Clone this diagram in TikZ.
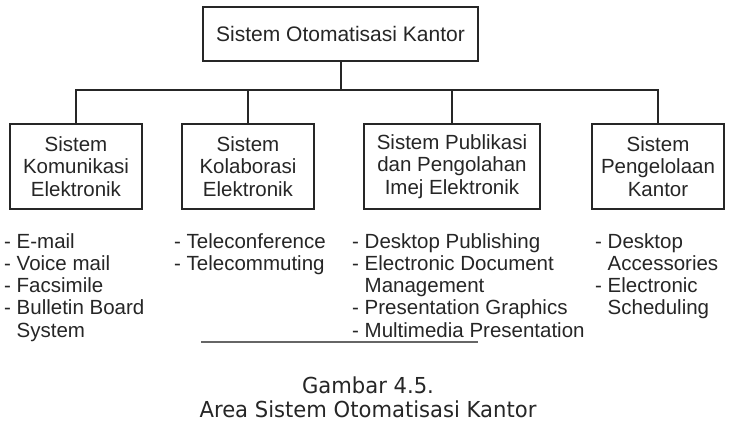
\documentclass[tikz,border=0pt]{standalone}
\usepackage{fontspec}
\setmainfont{Liberation Sans}
\newfontfamily\capfont[FakeStretch=0.96]{DejaVu Sans}
\begin{document}
\begin{tikzpicture}[x=1pt,y=-1pt,
  box/.style={draw=black!85, line width=2pt, inner sep=0pt, align=center,
    font=\fontsize{20.5}{22.5}\selectfont, text=black!85, fill=white,
    minimum height=85pt},
  conn/.style={draw=black!85, line width=2pt},
  lst/.style={anchor=base west, inner sep=0pt, align=left,
    font=\fontsize{20.5}{22.3}\selectfont, text=black!85},
  rulex/.style={draw=black!60, line width=1.4pt}]
\useasboundingbox[fill=white] (0,0) rectangle (731,423);

\node[box, minimum width=275pt, minimum height=54pt,
  font=\fontsize{21}{23}\selectfont] (top) at (340.5,34) {Sistem Otomatisasi Kantor};

\node[box, minimum width=132pt] (b1) at (76,166.5) {Sistem\\Komunikasi\\Elektronik};
\node[box, minimum width=132pt] (b2) at (248,166.5) {Sistem\\Kolaborasi\\Elektronik};
\node[box, minimum width=176pt] (b3) at (452,166.5) {Sistem Publikasi\\dan Pengolahan\\Imej Elektronik};
\node[box, minimum width=132pt] (b4) at (658,166.5) {Sistem\\Pengelolaan\\Kantor};

\coordinate (bus) at (0,90);
\draw[conn] (top.south) -- (top.south |- bus);
\draw[conn] (b1.north) -- (b1.north |- bus) -- (b4.north |- bus) -- (b4.north);
\draw[conn] (b2.north) -- (b2.north |- bus);
\draw[conn] (b3.north) -- (b3.north |- bus);

% base anchor = baseline of the last line
\node[lst] (l1) at (4,337.2) {- E-mail\\- Voice mail\\- Facsimile\\- Bulletin Board\\\phantom{- }System};
\node[lst] (l2) at (174,270.3) {- Teleconference\\- Telecommuting};
\node[lst] (l3) at (352,337.2) {- Desktop Publishing\\- Electronic Document\\\phantom{- }Management\\- Presentation Graphics\\- Multimedia Presentation};
\node[lst] (l4) at (595,314.9) {- Desktop\\\phantom{- }Accessories\\- Electronic\\\phantom{- }Scheduling};

\coordinate (u1) at (201,342);
\coordinate (u2) at (478,342);
\draw[rulex] (u1) -- (u2);

\node[anchor=base, inner sep=0pt, align=center, text=black!85,
  font=\capfont\fontsize{22}{24}\selectfont] (cap) at (368,417)
  {Gambar 4.5.\\Area Sistem Otomatisasi Kantor};
\end{tikzpicture}
\end{document}
